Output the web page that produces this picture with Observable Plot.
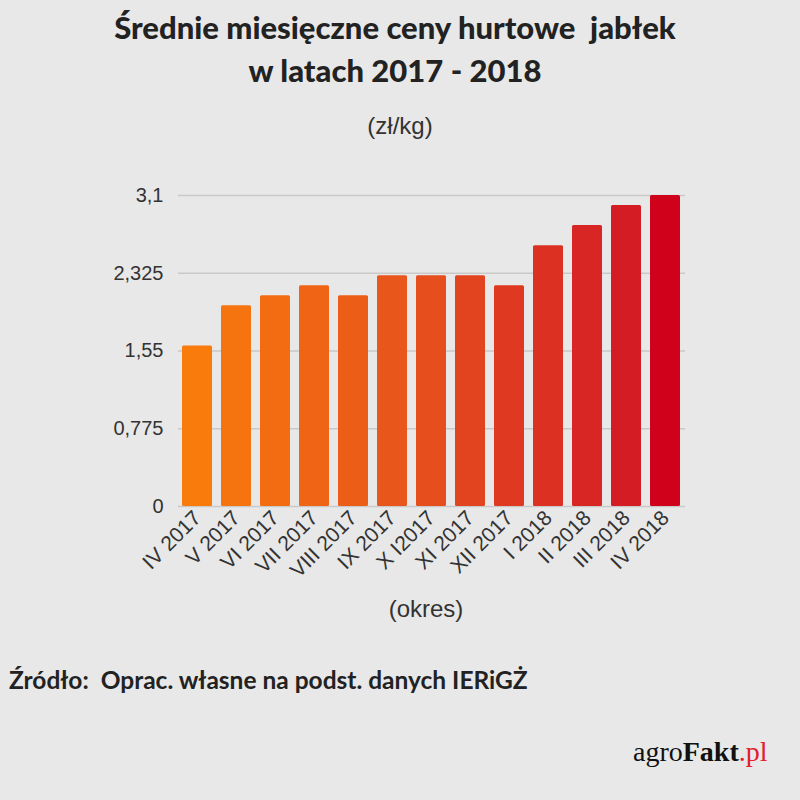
<!DOCTYPE html>
<html>
<head>
<meta charset="utf-8">
<script src="https://cdn.jsdelivr.net/npm/d3@7"></script>
<script src="https://cdn.jsdelivr.net/npm/@observablehq/plot@0.6"></script>
<style>
  html, body { margin: 0; padding: 0; }
  body { width: 800px; height: 800px; background: #e8e8e8; position: relative; overflow: hidden; }
  .t { position: absolute; white-space: nowrap; line-height: 1; }
  #title { left: 0; width: 790px; top: 6px; text-align: center; font-family: Lato, sans-serif; font-weight: 900; font-size: 31px; line-height: 43px; color: #222; }
  #unit { left: 0; width: 800px; top: 114px; text-align: center; font-family: "Liberation Sans", Arial, sans-serif; font-size: 24px; color: #333; }
  #xlabel { left: 0; width: 852px; top: 597px; text-align: center; font-family: "Liberation Sans", Arial, sans-serif; font-size: 24px; color: #333; }
  #source { left: 9px; top: 668px; font-family: Lato, sans-serif; font-weight: 700; font-size: 24.5px; color: #222; }
  #logo { left: 633px; top: 738px; font-family: "Liberation Serif", serif; font-size: 28px; color: #111; }
  #logo b { font-weight: 700; }
  #logo span { color: #e0202a; }
  #chart { position: absolute; left: 0; top: 170px; }
</style>
</head>
<body>
<div class="t" id="title">Średnie miesięczne ceny hurtowe&nbsp; jabłek<br>w latach 2017 - 2018</div>
<div class="t" id="unit">(zł/kg)</div>
<div id="chart"></div>
<div class="t" id="xlabel">(okres)</div>
<div class="t" id="source">Źródło:&nbsp; Oprac. własne na podst. danych IERiGŻ</div>
<div class="t" id="logo">agro<b>Fakt</b><span>.pl</span></div>
<script>
const periods = ["IV 2017","V 2017","VI 2017","VII 2017","VIII 2017","IX 2017","X I2017","XI 2017","XII 2017","I 2018","II 2018","III 2018","IV 2018"];
const prices = [1.6, 2.0, 2.1, 2.2, 2.1, 2.3, 2.3, 2.3, 2.2, 2.6, 2.8, 3.0, 3.1];
const yTicks = [0, 0.775, 1.55, 2.325, 3.1];

const data = periods.map((p, i) => ({period: p, price: prices[i], idx: i}));
const fmt = d => String(d).replace(".", ",");

const chart = Plot.plot({
  width: 800,
  height: 430,
  marginTop: 25,
  marginBottom: 94,
  marginLeft: 178,
  marginRight: 115,
  style: {background: "transparent", fontFamily: "'Liberation Sans', Arial, sans-serif", color: "#333"},
  x: {domain: periods, paddingInner: 0.22, paddingOuter: 0, align: 0.5},
  y: {domain: [0, 3.1]},
  color: {type: "linear", domain: [0, 6, 11, 12], range: ["#f97b0c", "#e64e1e", "#d41c25", "#d0021b"], interpolate: "rgb"},
  marks: [
    Plot.ruleY(yTicks, {stroke: "#c9c9c9", strokeWidth: 1.3}),
    Plot.barY(data, {x: "period", y: "price", fill: "idx", rx: 1.5}),
    Plot.axisY({ticks: yTicks, tickFormat: fmt, tickSize: 0, tickPadding: 15, fontSize: 20, label: null}),
    Plot.axisX({tickSize: 0, tickRotate: -45, tickPadding: 8, fontSize: 21, label: null})
  ]
});
document.getElementById("chart").appendChild(chart);
</script>
</body>
</html>
